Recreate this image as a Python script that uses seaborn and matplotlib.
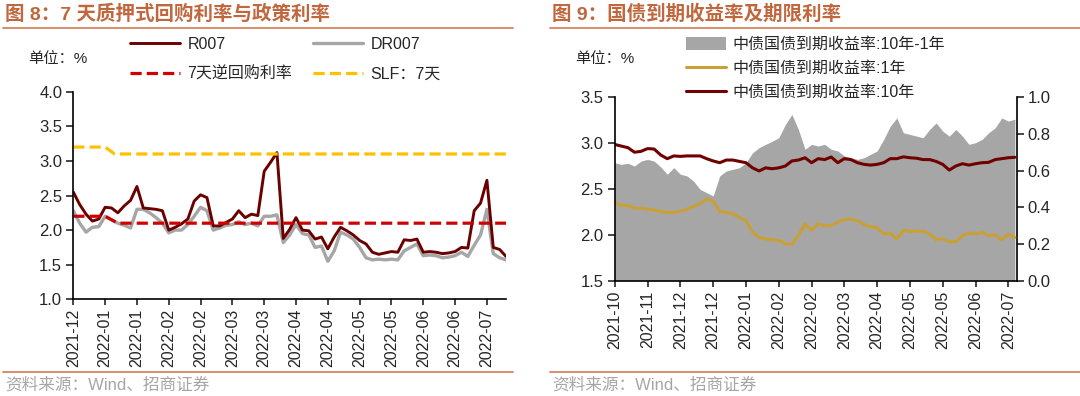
import numpy as np
import pandas as pd
import seaborn as sns
import matplotlib
matplotlib.use('Agg')
import matplotlib.pyplot as plt
from matplotlib.lines import Line2D
from matplotlib.patches import Patch

# ---- left panel: 7-day repo rates (one sample per ~1/5 of a tick step) ----
r007 = [2.55, 2.37, 2.23, 2.13, 2.16, 2.33, 2.32, 2.25, 2.35, 2.43,
        2.63, 2.32, 2.31, 2.30, 2.28, 2.00, 2.04, 2.09, 2.16, 2.42,
        2.51, 2.47, 2.06, 2.06, 2.11, 2.16, 2.28, 2.18, 2.23, 2.21,
        2.85, 2.98, 3.12, 1.88, 2.01, 2.18, 2.00, 1.99, 1.87, 1.90,
        1.73, 1.90, 2.04, 1.99, 1.93, 1.85, 1.80, 1.68, 1.65, 1.67,
        1.69, 1.68, 1.86, 1.85, 1.87, 1.68, 1.69, 1.68, 1.66, 1.67,
        1.69, 1.75, 1.74, 2.28, 2.39, 2.72, 1.75, 1.72, 1.62]
dr007 = [2.28, 2.10, 1.97, 2.04, 2.05, 2.20, 2.15, 2.10, 2.07, 2.03,
         2.30, 2.30, 2.25, 2.18, 2.10, 1.96, 2.00, 2.00, 2.08, 2.20,
         2.33, 2.28, 2.00, 2.03, 2.07, 2.08, 2.12, 2.08, 2.10, 2.06,
         2.20, 2.20, 2.22, 1.82, 1.93, 2.08, 1.95, 1.93, 1.75, 1.77,
         1.55, 1.70, 1.97, 1.93, 1.87, 1.75, 1.60, 1.57, 1.58, 1.57,
         1.58, 1.57, 1.70, 1.75, 1.80, 1.63, 1.64, 1.63, 1.60, 1.61,
         1.63, 1.68, 1.62, 1.78, 1.93, 2.30, 1.66, 1.60, 1.57]
# policy rates: breakpoints only (sample index, rate)
repo_x = [0, 5, 7, 68]
repo_y = [2.2, 2.2, 2.1, 2.1]
slf_x = [0, 5, 6.5, 68]
slf_y = [3.2, 3.2, 3.1, 3.1]
left_ticklabels = ['2021-12', '2022-01', '2022-01', '2022-02', '2022-02', '2022-03',
                   '2022-03', '2022-04', '2022-04', '2022-05', '2022-05', '2022-06',
                   '2022-06', '2022-07']

# ---- right panel: treasury yields ----
y10 = [2.985, 2.967, 2.95, 2.90, 2.91, 2.94, 2.935, 2.87, 2.83, 2.86,
       2.855, 2.86, 2.86, 2.86, 2.83, 2.805, 2.786, 2.815, 2.815, 2.80,
       2.786, 2.73, 2.696, 2.73, 2.72, 2.73, 2.75, 2.805, 2.815, 2.84,
       2.786, 2.83, 2.82, 2.848, 2.786, 2.83, 2.82, 2.786, 2.768, 2.76,
       2.768, 2.786, 2.83, 2.83, 2.85, 2.84, 2.835, 2.82, 2.82, 2.80,
       2.768, 2.706, 2.75, 2.775, 2.76, 2.775, 2.786, 2.79, 2.82, 2.83,
       2.84, 2.845]
y1 = [2.355, 2.32, 2.32, 2.29, 2.29, 2.28, 2.27, 2.255, 2.245, 2.245,
      2.255, 2.28, 2.31, 2.34, 2.39, 2.365, 2.255, 2.245, 2.23, 2.19,
      2.155, 2.03, 1.97, 1.955, 1.945, 1.94, 1.90, 1.90, 1.99, 2.12,
      2.05, 2.12, 2.10, 2.10, 2.14, 2.165, 2.17, 2.155, 2.11, 2.09,
      2.075, 2.01, 2.02, 1.955, 2.05, 2.035, 2.04, 2.04, 2.01, 1.945,
      1.955, 1.925, 1.925, 1.99, 2.02, 2.01, 2.03, 1.99, 2.00, 1.945,
      2.01, 1.97]
spread = [0.643, 0.634, 0.64, 0.625, 0.652, 0.661, 0.652, 0.62, 0.58, 0.616,
          0.58, 0.571, 0.543, 0.498, 0.48, 0.462, 0.571, 0.598, 0.607, 0.616,
          0.643, 0.697, 0.725, 0.743, 0.76, 0.779, 0.851, 0.906, 0.824, 0.716,
          0.743, 0.734, 0.743, 0.716, 0.707, 0.68, 0.67, 0.661, 0.67, 0.689,
          0.707, 0.77, 0.842, 0.887, 0.806, 0.797, 0.788, 0.779, 0.824, 0.86,
          0.815, 0.788, 0.824, 0.788, 0.743, 0.752, 0.77, 0.806, 0.833, 0.887,
          0.87, 0.88]
right_ticklabels = ['2021-10', '2021-11', '2021-12', '2021-12', '2022-01', '2022-02',
                    '2022-02', '2022-03', '2022-04', '2022-05', '2022-05', '2022-06',
                    '2022-07']

sns.set_style('white')
plt.rcParams['font.family'] = ['Liberation Sans', 'Noto Sans CJK SC']
plt.rcParams['axes.unicode_minus'] = False

TITLE_C = '#C0673E'
RULE_C = '#D8845E'
SRC_C = '#A6A6A6'

fig = plt.figure(figsize=(10.8, 3.96), dpi=100)

def fx(px):
    return px / 1080

def fy(py):
    return 1 - py / 396

def style_axis(ax):
    for s in ['top', 'right']:
        ax.spines[s].set_visible(False)
    for s in ['left', 'bottom']:
        ax.spines[s].set_color('black')
        ax.spines[s].set_linewidth(1.2)
    ax.tick_params(axis='y', direction='out', length=5, width=1.2, labelsize=12, pad=3, left=True)
    ax.tick_params(axis='x', direction='out', length=4, width=1.2, labelsize=11.5, pad=3,
                   bottom=True, labelrotation=90)
    ax.set_xlabel('')
    ax.set_ylabel('')

# ================= left panel =================
ax = fig.add_axes([fx(73.3), fy(299.3), fx(506 - 73.3), (299.3 - 91.7) / 396])
left = pd.DataFrame({'idx': np.arange(len(r007)), 'R007': r007, 'DR007': dr007})
sns.lineplot(data=left, x='idx', y='DR007', ax=ax, color='#A6A6A6', lw=2.4, label='DR007')
sns.lineplot(data=left, x='idx', y='R007', ax=ax, color='#6B0000', lw=2.1, label='R007')
sns.lineplot(x=repo_x, y=repo_y, ax=ax, color='#D00000', lw=2.3,
             linestyle=(0, (3.5, 1.6)), label='7天逆回购利率')
sns.lineplot(x=slf_x, y=slf_y, ax=ax, color='#FFC000', lw=2.3,
             linestyle=(0, (3.5, 1.6)), label='SLF：7天')
ax.set_xlim(0, 68)
ax.set_ylim(1.0, 4.0)
ax.set_yticks(np.arange(1.0, 4.01, 0.5))
ax.set_yticklabels(['%.1f' % v for v in np.arange(1.0, 4.01, 0.5)])
ax.set_xticks(np.arange(0, 66, 5))
ax.set_xticklabels(left_ticklabels)
style_axis(ax)
h, l = ax.get_legend_handles_labels()
order = [l.index('R007'), l.index('7天逆回购利率'), l.index('DR007'), l.index('SLF：7天')]
ax.legend([h[i] for i in order], [l[i] for i in order], ncol=2, frameon=False,
          loc='upper left', bbox_to_anchor=(fx(130), fy(37)), bbox_transform=fig.transFigure,
          borderpad=0, borderaxespad=0, handlelength=3.1, handletextpad=0.5,
          columnspacing=1.3, labelspacing=0.9, fontsize=11.5)
fig.text(fx(28), fy(59), '单位：%', fontsize=11, va='center', ha='left')

# ================= right panel =================
axl = fig.add_axes([fx(614.8), fy(280.7), fx(1016.5 - 614.8), (280.7 - 97.2) / 396])
axr = axl.twinx()
right = pd.DataFrame({'idx': np.arange(len(y10)), 'y10': y10, 'y1': y1, 'spread': spread})
axr.fill_between(right['idx'], 0, right['spread'], color='#A6A6A6', lw=0)
sns.lineplot(data=right, x='idx', y='y1', ax=axl, color='#C9A035', lw=2.2)
sns.lineplot(data=right, x='idx', y='y10', ax=axl, color='#700000', lw=2.2)
axl.set_zorder(axr.get_zorder() + 1)
axl.patch.set_visible(False)
axl.set_xlim(0, 61.25)
axl.set_ylim(1.5, 3.5)
axl.set_yticks(np.arange(1.5, 3.51, 0.5))
axl.set_yticklabels(['%.1f' % v for v in np.arange(1.5, 3.51, 0.5)])
axl.set_xticks(np.arange(0, 61, 5))
axl.set_xticklabels(right_ticklabels)
style_axis(axl)
axr.set_ylim(0, 1.0)
axr.set_yticks(np.arange(0, 1.01, 0.2))
axr.set_yticklabels(['%.1f' % v for v in np.arange(0, 1.01, 0.2)])
axr.set_ylabel('')
for s in ['top', 'left', 'bottom']:
    axr.spines[s].set_visible(False)
axr.spines['right'].set_color('black')
axr.spines['right'].set_linewidth(1.2)
axr.tick_params(axis='y', direction='out', length=5, width=1.2, labelsize=12, pad=3, right=True)

handles = [Patch(facecolor='#A6A6A6', edgecolor='none'),
           Line2D([], [], color='#C9A035', lw=2.2),
           Line2D([], [], color='#700000', lw=2.2)]
labels = ['中债国债到期收益率:10年-1年', '中债国债到期收益率:1年', '中债国债到期收益率:10年']
axl.legend(handles, labels, frameon=False, loc='upper left',
           bbox_to_anchor=(fx(686), fy(37)), bbox_transform=fig.transFigure,
           borderpad=0, borderaxespad=0, handlelength=2.5, handleheight=0.9,
           handletextpad=0.4, labelspacing=0.55, fontsize=11.5)
fig.text(fx(575), fy(59), '单位：%', fontsize=11, va='center', ha='left')

# ================= titles, rules, sources =================
fig.text(fx(5), fy(14), '图 8：7 天质押式回购利率与政策利率', fontsize=14, fontweight='bold',
         color=TITLE_C, va='center', ha='left')
fig.text(fx(552), fy(14), '图 9：国债到期收益率及期限利率', fontsize=14, fontweight='bold',
         color=TITLE_C, va='center', ha='left')
for x0, x1 in [(3, 513), (550, 1080)]:
    fig.add_artist(Line2D([fx(x0), fx(x1)], [fy(27.5), fy(27.5)], transform=fig.transFigure,
                          color=RULE_C, lw=1.3))
    fig.add_artist(Line2D([fx(x0), fx(x1)], [fy(372), fy(372)], transform=fig.transFigure,
                          color=RULE_C, lw=1.3))
fig.text(fx(5), fy(385), '资料来源：Wind、招商证券', fontsize=12, color=SRC_C, va='center', ha='left')
fig.text(fx(552), fy(385), '资料来源：Wind、招商证券', fontsize=12, color=SRC_C, va='center', ha='left')

fig.savefig('out.png', dpi=100)
